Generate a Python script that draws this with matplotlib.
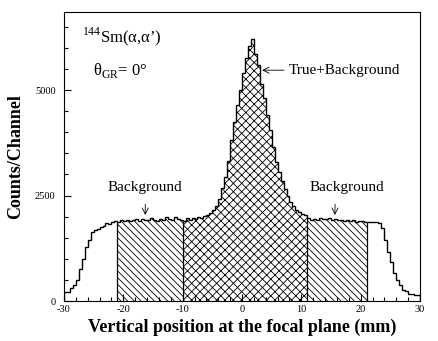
import numpy as np
import matplotlib
matplotlib.use("Agg")
import matplotlib.pyplot as plt

plt.rcParams["font.family"] = ["Liberation Serif", "DejaVu Serif"]
plt.rcParams["mathtext.fontset"] = "custom"
plt.rcParams["mathtext.rm"] = "Liberation Serif"
plt.rcParams["hatch.linewidth"] = 0.6
plt.rcParams["axes.unicode_minus"] = False

# histogram: 0.5 mm bins from -30 to 30 mm
bin_lo, bin_hi, bin_w = -30.0, 30.0, 0.5
counts = [
    # -30 .. -20.5
    220, 220, 300, 380, 510, 750, 990, 1290, 1450, 1640,
    1680, 1700, 1760, 1780, 1840, 1820, 1880, 1900, 1880, 1920,
    # -20 .. -10.5
    1890, 1930, 1900, 1910, 1940, 1900, 1950, 1930, 1920, 1960,
    1930, 1900, 1950, 1920, 1990, 1950, 1930, 1990, 1940, 1920,
    # -10 .. -0.5
    1900, 1960, 1930, 1980, 1950, 2000, 1970, 2010, 2040, 2080,
    2150, 2260, 2430, 2680, 2930, 3320, 3820, 4250, 4650, 5000,
    # 0 .. 9.5
    5400, 5750, 6050, 6220, 5850, 5600, 5150, 4800, 4400, 4050,
    3650, 3300, 3050, 2850, 2650, 2500, 2350, 2250, 2150, 2100,
    # 10 .. 19.5
    2060, 2030, 1960, 1920, 1950, 1930, 1970, 1940, 1950, 1980,
    1930, 1950, 1910, 1930, 1900, 1920, 1890, 1910, 1880, 1900,
    # 20 .. 29.5
    1890, 1870, 1880, 1870, 1870, 1880, 1860, 1720, 1450, 1170,
    930, 660, 500, 380, 260, 230, 180, 170, 150, 140,
]
# hatched windows (mm): background, true+background, background
bg_left = (-21, -10)
peak_win = (-10, 11)
bg_right = (11, 21)

counts = np.array(counts, dtype=float)
edges = np.arange(bin_lo, bin_hi + bin_w / 2, bin_w)
assert len(edges) == len(counts) + 1


def idx(x):
    return int(round((x - bin_lo) / bin_w))


fig = plt.figure(figsize=(4.38, 3.41), dpi=100)
ax = fig.add_axes([0.146, 0.117, 0.813, 0.848])

for (a, b), hatch in [(bg_left, "\\\\\\\\\\"), (peak_win, "xxxx"), (bg_right, "\\\\\\\\\\")]:
    i0, i1 = idx(a), idx(b)
    ax.stairs(counts[i0:i1], edges[i0:i1 + 1], fill=True, hatch=hatch,
              facecolor="none", edgecolor="black", linewidth=0)

ax.stairs(counts, edges, color="black", linewidth=1.0)

# vertical lines closing each window
for x in [bg_left[0], peak_win[0], bg_right[0], bg_right[1]]:
    ax.vlines(x, 0, counts[idx(x)], color="black", linewidth=0.9)

ax.set_xlim(-30, 30)
ax.set_ylim(0, 6850)
ax.set_xticks([-30, -20, -10, 0, 10, 20, 30])
ax.set_xticks(np.arange(-30, 31, 2), minor=True)
ax.set_yticks([0, 2500, 5000])
ax.set_yticks(np.arange(0, 6851, 500), minor=True)
ax.tick_params(which="both", direction="in", labelsize=7.5)
ax.tick_params(which="major", length=5, width=0.8)
ax.tick_params(which="minor", length=3, width=0.8)
ax.tick_params(axis="x", pad=3)
ax.tick_params(axis="y", pad=6)
for s in ax.spines.values():
    s.set_linewidth(0.8)

ax.set_xlabel("Vertical position at the focal plane (mm)", fontsize=13,
              fontweight="bold", labelpad=3)
ax.set_ylabel("Counts/Channel", fontsize=13, fontweight="bold", labelpad=8)

ax.text(-27.0, 6260, "$^{144}$Sm(α,α’)", fontsize=12, va="center")
ax.text(-25.1, 5470, "θ$_{\\rm GR}$= 0°", fontsize=12, va="center")
ax.annotate("True+Background", xy=(3.4, 5470), xytext=(7.8, 5470), fontsize=11,
            va="center", arrowprops=dict(arrowstyle="->", lw=0.6, color="black",
                                         shrinkA=1, shrinkB=0))
ax.annotate("Background", xy=(-16.3, 2040), xytext=(-16.3, 2680), fontsize=11,
            ha="center", va="center",
            arrowprops=dict(arrowstyle="->", lw=0.6, color="black", shrinkA=5, shrinkB=0))
ax.annotate("Background", xy=(15.65, 2040), xytext=(17.6, 2680), fontsize=11,
            ha="center", va="center",
            arrowprops=dict(arrowstyle="->", lw=0.6, color="black", shrinkA=5, shrinkB=0,
                            relpos=(0.35, 0)))

fig.savefig("out.png", dpi=100)
